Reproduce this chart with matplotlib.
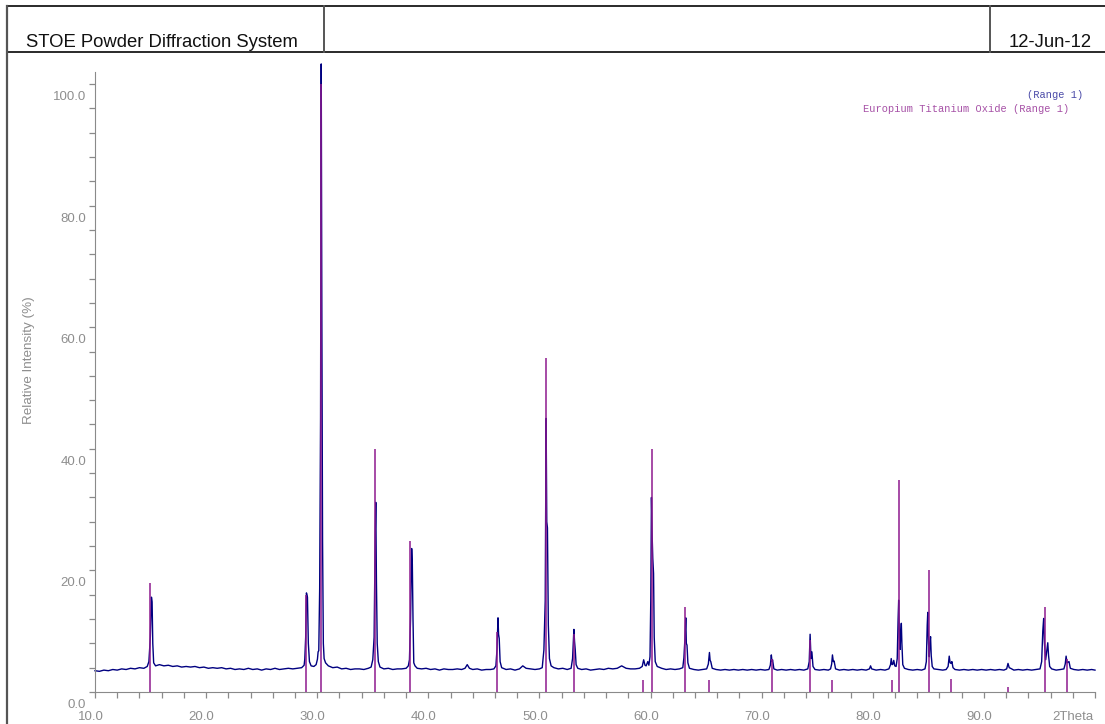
import matplotlib
matplotlib.use("Agg")
import matplotlib.pyplot as plt
from matplotlib.lines import Line2D
from matplotlib.transforms import offset_copy

# measured pattern (2Theta in degrees, relative intensity in %)
two_theta = [
    10.0, 10.4, 10.8, 11.2, 11.6, 12.0, 12.4, 12.8, 13.2, 13.6, 14.0, 14.4, 14.7,
    14.85, 14.98, 15.08, 15.14, 15.2, 15.28, 15.45, 15.8, 16.2, 16.6, 17.0, 17.4,
    17.8, 18.2, 18.6, 19.0, 19.4, 19.8, 20.2, 20.6, 21.0, 21.4, 21.8, 22.2, 22.6,
    23.0, 23.4, 23.8, 24.2, 24.6, 25.0, 25.4, 25.8, 26.2, 26.6, 27.0, 27.4, 27.8,
    28.2, 28.6, 28.82, 28.88, 28.96, 29.03, 29.12, 29.2, 29.3, 29.45, 29.7, 29.9,
    30.02, 30.08, 30.14, 30.22, 30.3, 30.36, 30.42, 30.48, 30.55, 30.62, 30.75,
    31.0, 31.4, 31.8, 32.2, 32.6, 33.0, 33.4, 33.8, 34.2, 34.6, 34.85, 35.0, 35.12,
    35.22, 35.27, 35.33, 35.4, 35.5, 35.65, 36.0, 36.4, 36.8, 37.2, 37.6, 38.0,
    38.2, 38.3, 38.4, 38.5, 38.56, 38.62, 38.69, 38.8, 39.0, 39.4, 39.8,
    40.2, 40.6, 41.0, 41.4, 41.8, 42.2, 42.6, 43.0, 43.3, 43.5, 43.7, 44.0, 44.4,
    44.8, 45.2, 45.6, 45.9, 46.08, 46.18, 46.27, 46.32, 46.38, 46.46, 46.6, 47.0,
    47.4, 47.8, 48.2, 48.5, 48.8, 49.2, 49.6, 50.0, 50.25, 50.4, 50.52, 50.6,
    50.66, 50.72, 50.8, 50.9, 51.05, 51.3, 51.7, 52.1, 52.5, 52.85, 52.98, 53.06,
    53.1, 53.16, 53.22, 53.3, 53.45, 53.8, 54.2, 54.6, 55.0, 55.4, 55.8, 56.2,
    56.6, 57.0, 57.4, 57.8, 58.2, 58.6, 59.0, 59.25, 59.38, 59.5, 59.6, 59.75,
    59.85, 59.95, 60.02, 60.08, 60.14, 60.2, 60.27, 60.33, 60.42, 60.6, 61.0,
    61.4, 61.8, 62.2, 62.6, 62.9, 63.0, 63.1, 63.17, 63.22, 63.28, 63.36, 63.5,
    63.9, 64.3, 64.7, 65.05, 65.2, 65.3, 65.36, 65.42, 65.55, 65.9, 66.3, 66.7,
    67.1, 67.5, 67.9, 68.3, 68.7, 69.1, 69.5, 69.9, 70.3, 70.65, 70.78, 70.87,
    70.93, 70.98, 71.1, 71.4, 71.8, 72.2, 72.6, 73.0, 73.4, 73.8, 74.15, 74.28,
    74.36, 74.44, 74.52, 74.62, 74.8, 75.2, 75.6, 76.0, 76.2, 76.3, 76.37, 76.45,
    76.52, 76.65, 77.0, 77.4, 77.8, 78.2, 78.6, 79.0, 79.4, 79.7, 79.8, 79.9,
    80.3, 80.7, 81.1, 81.45, 81.6, 81.66, 81.74, 81.82, 81.89, 81.98, 82.1, 82.2,
    82.28, 82.33, 82.4, 82.46, 82.52, 82.57, 82.62, 82.7, 82.85, 83.2, 83.6, 84.0,
    84.4, 84.7, 84.82, 84.9, 84.95, 85.02, 85.08, 85.14, 85.2, 85.26, 85.35, 85.5,
    85.9, 86.3, 86.6, 86.78, 86.88, 86.96, 87.05, 87.12, 87.22, 87.4, 87.8, 88.2,
    88.6, 89.0, 89.4, 89.8, 90.2, 90.6, 91.0, 91.4, 91.8, 92.05, 92.17, 92.28,
    92.4, 92.7, 93.1, 93.5, 93.9, 94.3, 94.7, 95.05, 95.2, 95.3, 95.38, 95.45,
    95.56, 95.68, 95.75, 95.82, 95.92, 96.1, 96.5, 96.9, 97.2, 97.32, 97.4, 97.48,
    97.58, 97.66, 97.78, 98.1, 98.5, 98.9, 99.3, 99.7, 100.0,
]
intensity = [
    3.5, 3.4, 3.6, 3.5, 3.7, 3.6, 3.8, 3.7, 3.9, 3.8, 4.0, 3.9, 4.2,
    5.0, 9.0, 15.6, 14.8, 8.0, 4.8, 4.3, 4.5, 4.3, 4.4, 4.2, 4.3,
    4.1, 4.2, 4.1, 4.2, 4.0, 4.1, 3.9, 4.0, 3.9, 4.0, 3.8, 3.9, 3.7,
    3.8, 3.7, 3.9, 3.7, 3.8, 3.6, 3.8, 3.7, 3.9, 3.7, 3.8, 3.9, 3.8,
    3.9, 4.0, 4.4, 5.4, 9.0, 16.3, 15.6, 8.0, 5.0, 4.3, 4.2, 4.5,
    5.4, 6.6, 6.8, 17.0, 45.0, 103.3, 60.0, 25.0, 8.0, 5.5, 4.8,
    4.3, 4.0, 4.1, 3.8, 3.9, 3.7, 3.8, 3.8, 3.7, 3.9, 4.1, 5.3, 9.0,
    26.0, 31.2, 18.0, 8.0, 5.0, 4.1, 3.8, 3.9, 3.7, 3.8, 3.8, 3.9,
    4.3, 5.3, 12.0, 23.6, 21.0, 12.0, 4.8, 4.3, 3.9, 3.8, 3.9,
    3.7, 3.8, 3.6, 3.8, 3.7, 3.7, 3.8, 3.7, 3.9, 4.5, 3.9, 3.7, 3.8,
    3.6, 3.7, 3.7, 3.8, 4.3, 7.0, 12.2, 9.5, 8.8, 5.0, 4.0, 3.7,
    3.8, 3.6, 3.8, 4.3, 3.9, 3.8, 3.7, 3.8, 4.0, 6.9, 15.0, 45.0,
    28.0, 27.0, 11.0, 5.5, 4.3, 4.0, 3.8, 3.9, 3.7, 3.9, 5.5, 8.5,
    10.3, 8.3, 7.0, 4.5, 3.9, 3.7, 3.8, 3.6, 3.7, 3.8, 3.7, 3.9,
    3.8, 3.9, 4.3, 3.9, 3.8, 3.8, 3.9, 4.2, 5.3, 4.4, 4.3, 5.0,
    4.4, 5.8, 15.0, 32.0, 26.0, 22.0, 19.5, 9.0, 5.0, 4.2, 3.9,
    3.7, 3.8, 3.7, 3.8, 4.0, 5.6, 9.0, 12.2, 8.0, 7.7, 4.8, 3.9,
    3.7, 3.6, 3.7, 3.8, 4.6, 6.5, 5.2, 5.0, 3.9, 3.7, 3.6, 3.7,
    3.6, 3.7, 3.6, 3.7, 3.6, 3.7, 3.6, 3.7, 3.6, 3.7, 4.4, 6.1,
    5.0, 5.3, 3.8, 3.6, 3.7, 3.6, 3.7, 3.6, 3.7, 3.6, 3.8, 5.0,
    9.5, 5.5, 6.6, 4.2, 3.7, 3.6, 3.7, 3.6, 3.8, 4.6, 6.1, 5.0,
    5.1, 3.8, 3.6, 3.7, 3.6, 3.7, 3.6, 3.7, 3.6, 3.8, 4.3, 3.8,
    3.6, 3.7, 3.6, 3.8, 4.5, 5.5, 4.5, 4.6, 5.2, 4.3, 4.2, 5.5,
    12.0, 15.1, 9.0, 7.0, 10.0, 11.3, 8.0, 4.5, 3.9, 3.7, 3.6, 3.7,
    3.6, 3.8, 5.0, 11.0, 13.1, 8.0, 5.8, 8.0, 9.1, 6.0, 4.2, 3.8,
    3.7, 3.6, 3.7, 4.2, 5.9, 4.8, 4.7, 5.0, 4.0, 3.7, 3.6, 3.7,
    3.6, 3.7, 3.6, 3.7, 3.6, 3.7, 3.6, 3.7, 3.6, 3.8, 4.7, 4.0,
    3.9, 3.6, 3.7, 3.6, 3.7, 3.6, 3.7, 3.8, 5.0, 10.0, 12.1, 8.0,
    5.3, 7.0, 8.1, 6.0, 4.2, 3.8, 3.6, 3.7, 3.8, 4.6, 5.9, 4.8,
    4.9, 5.0, 3.9, 3.7, 3.6, 3.7, 3.6, 3.7, 3.6,
]

# reference lines: Europium Titanium Oxide
ref_theta = [14.95, 29.02, 30.31, 35.17, 38.38, 46.15, 50.63, 53.10, 59.30,
             60.16, 63.07, 65.26, 70.96, 74.36, 76.37, 81.74, 82.36, 85.03,
             87.00, 92.20, 95.53, 97.50]
ref_int = [18.0, 16.0, 100.0, 40.0, 24.9, 9.9, 54.9, 9.5, 2.0,
           40.0, 14.0, 2.0, 5.5, 8.5, 2.0, 2.0, 34.9, 20.0,
           2.1, 0.9, 13.9, 5.5]

x_major = [10, 20, 30, 40, 50, 60, 70, 80, 90]
x_labels = ["10.0", "20.0", "30.0", "40.0", "50.0", "60.0", "70.0", "80.0", "90.0"]
y_major = [0, 20, 40, 60, 80, 100]
y_labels = ["0.0", "20.0", "40.0", "60.0", "80.0", "100.0"]

W, H = 1105, 724
fig = plt.figure(figsize=(W / 100, H / 100), dpi=100)
plt.rcParams['font.family'] = ['Liberation Sans', 'DejaVu Sans']

AXIS_GREY = "#8a8a8a"


def fx(px):
    return px / W


def fy(py):
    return 1 - py / H


# page frame and header boxes
frame_kw = dict(transform=fig.transFigure, color="#2a2a2a", lw=1.4)
fig.add_artist(Line2D([fx(7), fx(W)], [fy(6), fy(6)], **frame_kw))
fig.add_artist(Line2D([fx(7), fx(W)], [fy(52), fy(52)], **frame_kw))
fig.add_artist(Line2D([fx(7), fx(7)], [fy(6), fy(H)], color="#555555", lw=1.6,
                      transform=fig.transFigure))
fig.add_artist(Line2D([fx(324), fx(324)], [fy(6), fy(52)], color="#555555", lw=1.4,
                      transform=fig.transFigure))
fig.add_artist(Line2D([fx(990), fx(990)], [fy(6), fy(52)], color="#555555", lw=1.4,
                      transform=fig.transFigure))
fig.text(fx(26), fy(47), "STOE Powder Diffraction System", fontsize=13.3,
         color="#111111", ha="left", va="baseline")
fig.text(fx(1092), fy(47), "12-Jun-12", fontsize=13.3,
         color="#111111", ha="right", va="baseline")

# plot area: 10..100 deg over 1000 px, 6.08 px per % intensity
y_top = 105
ax = fig.add_axes([fx(95), 32 / H, 1000 / W, y_top * 6.08 / H])
ax.set_xlim(10, 100)
ax.set_ylim(0, y_top)
ax.patch.set_alpha(0)

ax.plot(two_theta, intensity, color="#000080", lw=1.0, zorder=2, clip_on=False)
ax.vlines(ref_theta, 0, ref_int, color="#8e1a8e", lw=1.1, zorder=3)

for s in ["top", "right"]:
    ax.spines[s].set_visible(False)
ax.spines["left"].set_bounds(0, 102)
ax.spines["left"].set_color(AXIS_GREY)
ax.spines["bottom"].set_color(AXIS_GREY)
ax.set_xticks([10 + 2 * i for i in range(46)])
ax.set_yticks([4 * i for i in range(26)])
ax.tick_params(length=4.5, width=0.9, color=AXIS_GREY, labelbottom=False,
               labelleft=False)

# tick labels sit slightly off their ticks
lab_kw = dict(fontsize=9.5, color="#8e8e8e", va="center")
for v, t in zip(x_major, x_labels):
    ax.text(v, 0, t, ha="center",
            transform=offset_copy(ax.transData, fig, x=-4.5, y=-25, units="dots"),
            **lab_kw)
ax.text(100, 0, "2Theta", ha="right",
        transform=offset_copy(ax.transData, fig, x=-2, y=-25, units="dots"),
        **lab_kw)
for v, t in zip(y_major, y_labels):
    ax.text(10, v, t, ha="right",
            transform=offset_copy(ax.transData, fig, x=-9, y=-13, units="dots"),
            **lab_kw)

fig.text(fx(29), fy(360), "Relative Intensity (%)", rotation=90, fontsize=9.7,
         color="#8e8e8e", ha="center", va="center")

# legend
fig.text(fx(1083), fy(95), "(Range 1)", family="Liberation Mono", fontsize=7.5,
         color="#4a4aa8", ha="right", va="center")
fig.text(fx(1069), fy(109), "Europium Titanium Oxide (Range 1)",
         family="Liberation Mono", fontsize=7.5, color="#a650a6",
         ha="right", va="center")

fig.savefig("out.png", dpi=100)
